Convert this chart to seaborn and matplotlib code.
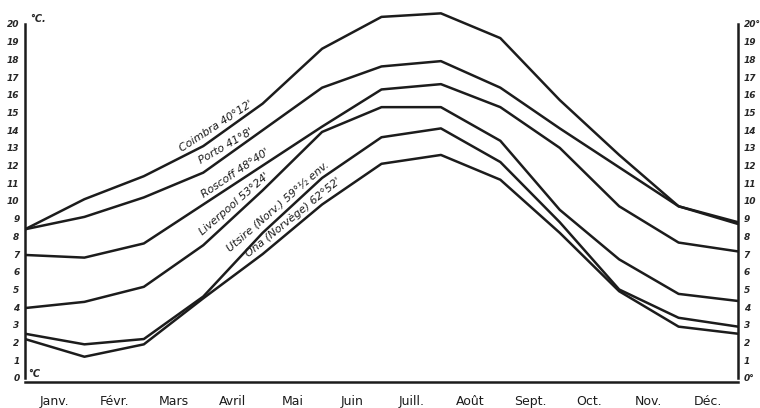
import matplotlib
import matplotlib.pyplot as plt
import numpy as np
import pandas as pd
import seaborn as sns

matplotlib.use("Agg")

months = ["Janv.", "Févr.", "Mars", "Avril", "Mai", "Juin", "Juill.",
          "Août", "Sept.", "Oct.", "Nov.", "Déc."]

# 13 points: Janvier ... Décembre, then back to Janvier
coimbra = [8.4, 10.1, 11.4, 13.1, 15.5, 18.6, 20.4, 20.6, 19.2, 15.7, 12.6, 9.7, 8.8]
porto = [8.4, 9.1, 10.2, 11.6, 14.0, 16.4, 17.6, 17.9, 16.4, 14.1, 11.9, 9.7, 8.7]
roscoff = [6.95, 6.8, 7.6, 9.8, 12.0, 14.2, 16.3, 16.6, 15.3, 13.0, 9.7, 7.65, 7.15]
liverpool = [3.95, 4.3, 5.15, 7.5, 10.6, 13.9, 15.3, 15.3, 13.4, 9.5, 6.7, 4.75, 4.35]
utsire = [2.5, 1.9, 2.2, 4.6, 8.2, 11.3, 13.6, 14.1, 12.2, 8.8, 5.0, 3.4, 2.9]
ona = [2.2, 1.2, 1.9, 4.5, 7.0, 9.8, 12.1, 12.6, 11.2, 8.2, 4.9, 2.9, 2.5]

stations = {
    "Coimbra 40°12'": coimbra,
    "Porto 41°8'": porto,
    "Roscoff 48°40'": roscoff,
    "Liverpool 53°24'": liverpool,
    "Utsire (Norv.) 59°½ env.": utsire,
    "Ona (Norvège) 62°52'": ona,
}

# where each name is written along its curve (x in months) and its angle
label_spots = {
    "Coimbra 40°12'": (3.3, 33),
    "Porto 41°8'": (3.45, 30),
    "Roscoff 48°40'": (3.62, 34),
    "Liverpool 53°24'": (3.62, 41),
    "Utsire (Norv.) 59°½ env.": (4.35, 41),
    "Ona (Norvège) 62°52'": (4.6, 39),
}

rows = []
for name, values in stations.items():
    for i, v in enumerate(values):
        rows.append({"Mois": i, "Température": v, "Station": name})
df = pd.DataFrame(rows)

sns.set_style("white")
plt.rcParams["font.family"] = ["DejaVu Sans"]
ink = "#1c1c1c"

fig = plt.figure(figsize=(7.6, 4.08), dpi=100)
ax = fig.add_axes([25 / 760, 1 - 382.4 / 408, 713 / 760, 372.6 / 408])

sns.lineplot(data=df, x="Mois", y="Température", hue="Station",
             palette=[ink] * len(stations), linewidth=1.8,
             legend=False, ax=ax)

months_idx = np.arange(13)
for name, (x, angle) in label_spots.items():
    y = np.interp(x, months_idx, stations[name])
    a = np.radians(angle)
    d = 6.5
    ax.annotate(name, (x, y), xytext=(-np.sin(a) * d, np.cos(a) * d),
                textcoords="offset points", rotation=angle,
                ha="center", va="center", rotation_mode="anchor",
                fontsize=7.8, style="italic", color=ink)

ax.set_xlim(0, 12)
ax.set_ylim(-0.25, 20.8)
ax.set_xlabel("")
ax.set_ylabel("")

ax.set_xticks([i + 0.5 for i in range(12)])
ax.set_xticklabels(months, fontsize=9, color=ink)
ax.tick_params(axis="x", length=0, pad=9)

ax.set_yticks(range(21))
ax.set_yticklabels([str(i) for i in range(21)],
                   fontsize=6.5, style="italic", fontweight="bold")
ax.tick_params(axis="y", length=0, pad=4)

ax2 = ax.twinx()
ax2.set_ylim(ax.get_ylim())
ax2.set_yticks(range(21))
ax2.set_yticklabels(["0°"] + [str(i) for i in range(1, 20)] + ["20°"],
                    fontsize=6.5, style="italic", fontweight="bold")
ax2.tick_params(axis="y", length=0, pad=4)

ax.text(0.08, 20.1, "°C.", fontsize=7, style="italic", fontweight="bold")
ax.text(0.05, 0.05, "°C", fontsize=7, style="italic", fontweight="bold")

for a in (ax, ax2):
    a.spines["top"].set_visible(False)
    a.spines["left"].set_bounds(0, 20)
    a.spines["right"].set_bounds(0, 20)
    for side in ("left", "right", "bottom"):
        a.spines[side].set_linewidth(1.8)
        a.spines[side].set_color(ink)
ax.spines["right"].set_visible(False)
ax2.spines["left"].set_visible(False)
ax2.spines["bottom"].set_visible(False)
ax.spines["bottom"].set_bounds(0, 12)

fig.savefig("out.png", dpi=100)
print("Plot: out.png")
